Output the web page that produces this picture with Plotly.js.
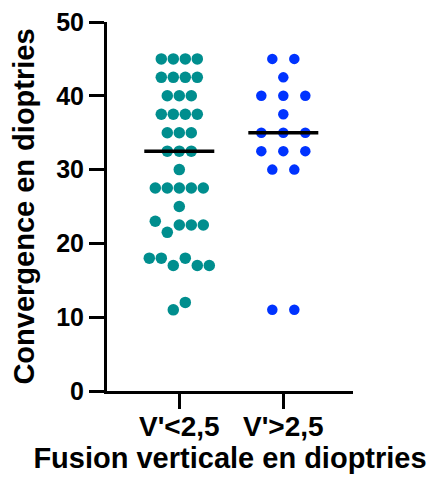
<!DOCTYPE html>
<html>
<head>
<meta charset="utf-8">
<script src="https://cdn.plot.ly/plotly-3.0.1.min.js"></script>
<style>
  html, body { margin: 0; padding: 0; background: #fff; }
  #chart { width: 433px; height: 486px; }
</style>
</head>
<body>
<div id="chart"></div>
<script>
// ---- data ----
const categories = ["V'<2,5", "V'>2,5"];
const groupLow = [
  45, 45, 45, 45,
  42.5, 42.5, 42.5, 42.5,
  40, 40, 40,
  37.5, 37.5, 37.5, 37.5,
  35, 35, 35,
  32.5, 32.5, 32.5,
  30,
  27.5, 27.5, 27.5, 27.5, 27.5,
  25,
  23, 21.5, 22.5, 22.5, 22.5,
  18, 18, 17, 18, 17, 17,
  11, 12
];
const groupHigh = [
  45, 45,
  42.5,
  40, 40, 40,
  37.5,
  35, 35, 35,
  32.5, 32.5, 32.5,
  30, 30,
  11, 11
];
const yTicks = [0, 10, 20, 30, 40, 50];
const xTitle = "Fusion verticale en dioptries";
const yTitle = "Convergence en dioptries";

// ---- layout constants ----
const W = 433, H = 486;
const margin = { l: 107, r: 80, t: 22, b: 95 };
const plotW = W - margin.l - margin.r;
const xRange = [-0.695, 1.67];
const unitsPerPx = (xRange[1] - xRange[0]) / plotW;

function median(arr) {
  const s = [...arr].sort((a, b) => a - b);
  const n = s.length;
  return n % 2 ? s[(n - 1) / 2] : (s[n / 2 - 1] + s[n / 2]) / 2;
}

// simple row-based swarm: values close together share a row,
// points within a row are spread symmetrically in data order
function swarm(values, spacingPx, gap) {
  const uniq = [...new Set(values)].sort((a, b) => b - a);
  const clusterOf = new Map();
  let cid = 0;
  uniq.forEach((v, i) => {
    if (i > 0 && uniq[i - 1] - v > gap) cid++;
    clusterOf.set(v, cid);
  });
  const members = {};
  values.forEach((v, i) => {
    const c = clusterOf.get(v);
    (members[c] = members[c] || []).push(i);
  });
  const off = new Array(values.length).fill(0);
  Object.values(members).forEach(idx => {
    const n = idx.length;
    idx.forEach((p, k) => { off[p] = (k - (n - 1) / 2) * spacingPx * unitsPerPx; });
  });
  return off;
}

const groups = [
  { vals: groupLow, color: '#008E8E', size: 11.5, spacing: 12 },
  { vals: groupHigh, color: '#0033FF', size: 10.5, spacing: 22 }
];

const traces = [];
groups.forEach((g, gi) => {
  const off = swarm(g.vals, g.spacing, 1.5);
  traces.push({
    type: 'scatter', mode: 'markers',
    x: g.vals.map((v, i) => gi + off[i]),
    y: g.vals,
    marker: { color: g.color, size: g.size, line: { width: 0 } },
    name: categories[gi], showlegend: false, hoverinfo: 'y', cliponaxis: false
  });
});
const halfW = 35 * unitsPerPx;
groups.forEach((g, gi) => {
  const m = median(g.vals);
  traces.push({
    type: 'scatter', mode: 'lines',
    x: [gi - halfW, gi + halfW], y: [m, m],
    line: { color: '#000', width: 3.5 },
    showlegend: false, hoverinfo: 'skip'
  });
});

const font = { family: 'Liberation Sans, Arial, sans-serif', color: '#000', weight: 700 };

const layout = {
  width: W, height: H,
  margin: margin,
  paper_bgcolor: '#fff', plot_bgcolor: '#fff',
  showlegend: false,
  xaxis: {
    range: xRange, tickvals: [0, 1], ticktext: categories,
    showgrid: false, zeroline: false,
    showline: true, linecolor: '#000', linewidth: 3,
    ticks: 'outside', ticklen: 15, tickwidth: 3, tickcolor: '#000',
    ticklabelstandoff: -7,
    tickfont: Object.assign({}, font, { size: 28 }),
    title: { text: xTitle, font: Object.assign({}, font, { size: 29 }), standoff: 8 },
    automargin: false, fixedrange: true
  },
  yaxis: {
    range: [0, 50], tickvals: yTicks,
    showgrid: false, zeroline: false,
    showline: true, linecolor: '#000', linewidth: 3,
    ticks: 'outside', ticklen: 15, tickwidth: 3, tickcolor: '#000',
    tickfont: Object.assign({}, font, { size: 25 }),
    title: { text: yTitle, font: Object.assign({}, font, { size: 29 }), standoff: 14 },
    automargin: false, fixedrange: true
  }
};

Plotly.newPlot('chart', traces, layout, { displayModeBar: false, staticPlot: true });
</script>
</body>
</html>
